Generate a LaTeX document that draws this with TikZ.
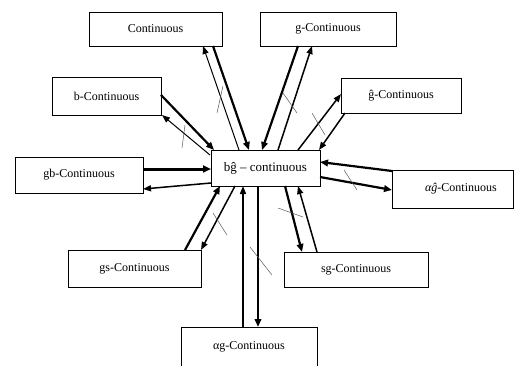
\documentclass[tikz,border=0pt]{standalone}
\usepackage{fontspec}
\setmainfont{Liberation Serif}
\usetikzlibrary{arrows.meta}
\begin{document}
\begin{tikzpicture}[x=1pt,y=-1pt,
  box/.style={draw, line width=0.8pt, anchor=north west, inner sep=0pt, outer sep=0pt,
    font=\fontsize{12}{14}\selectfont},
  thn/.style={-{Triangle[length=8pt,width=6pt]}, line width=1pt},
  med/.style={-{Triangle[length=8pt,width=6pt]}, line width=1.5pt},
  thk/.style={-{Triangle[length=8pt,width=6.5pt]}, line width=2.2pt},
  vthk/.style={-{Triangle[length=8pt,width=7pt]}, line width=3pt},
  tick/.style={line width=0.5pt, draw=black!65}]
\clip (0,0) rectangle (514,365);
\fill[white] (0,0) rectangle (514,365);

% nodes
\node[box, minimum width=133pt, minimum height=34pt] (cont) at (89,12) {Continuous};
\node[box, minimum width=136pt, minimum height=34pt] (g) at (260,12) {g-Continuous};
\node[box, minimum width=109pt, minimum height=38pt] (b) at (52,77) {b-Continuous};
\node[box, minimum width=120pt, minimum height=35pt] (gh) at (341,78) {ĝ-Continuous};
\node[box, minimum width=128pt, minimum height=36pt] (gb) at (15,157) {gb-Continuous};
\node[box, minimum width=109pt, minimum height=36pt, font=\fontsize{13}{15}\selectfont] (c) at (211,150) {bĝ – continuous};
\node[box, minimum width=121pt, minimum height=38pt] (agh) at (392,170) {\hspace*{17pt}{\itshape αĝ}-Continuous};
\node[box, minimum width=133pt, minimum height=37pt] (gs) at (68,250) {gs-Continuous};
\node[box, minimum width=144pt, minimum height=35pt] (sg) at (284,252) {sg-Continuous};
\node[box, minimum width=136pt, minimum height=40pt] (ag) at (181,327) {αg-Continuous};

% connectors
\draw[thk] ([shift={(124,34)}]cont.north west) -- ([shift={(38,0)}]c.north west);
\draw[thn] ([shift={(28,0)}]c.north west) -- ([shift={(114,34)}]cont.north west);

\draw[thk] ([shift={(38,34)}]g.north west) -- ([shift={(51,0)}]c.north west);
\draw[med] ([shift={(67,0)}]c.north west) -- ([shift={(52,34)}]g.north west);

\draw[thk] ([shift={(109,18)}]b.north west) -- ([shift={(3,0)}]c.north west);
\draw[thn] ([shift={(-1,5)}]c.north west) -- ([shift={(110,38)}]b.north west);

\draw[vthk] ([shift={(128,12)}]gb.north west) -- ([shift={(0,19)}]c.north west);
\draw[med] ([shift={(0,33)}]c.north west) -- ([shift={(128,32)}]gb.north west);

\draw[med] ([shift={(87,0)}]c.north west) -- ([shift={(0,16)}]gh.north west);
\draw[med] ([shift={(4,35)}]gh.north west) -- ([shift={(108,0)}]c.north west);

\draw[thk] ([shift={(0,1)}]agh.north west) -- ([shift={(109,12)}]c.north west);
\draw[thk] ([shift={(109,27)}]c.north west) -- ([shift={(0,20)}]agh.north west);

\draw[thk] ([shift={(117,0)}]gs.north west) -- ([shift={(9,36)}]c.north west);
\draw[med] ([shift={(24,36)}]c.north west) -- ([shift={(133,0)}]gs.north west);

\draw[med] ([shift={(62,0)}]ag.north west) -- ([shift={(32,36)}]c.north west);
\draw[thk] ([shift={(47,36)}]c.north west) -- ([shift={(77,0)}]ag.north west);

\draw[thk] ([shift={(74,36)}]c.north west) -- ([shift={(18,0)}]sg.north west);
\draw[med] ([shift={(33,0)}]sg.north west) -- ([shift={(87,36)}]c.north west);

% negation ticks
\draw[tick] (217,113) -- (223,86);
\draw[tick] (283,93) -- (297,113);
\draw[tick] (182,148) -- (185,125);
\draw[tick] (312,113) -- (325,135);
\draw[tick] (344,170) -- (357,190);
\draw[tick] (213,213) -- (227,235);
\draw[tick] (250,247) -- (272,275);
\draw[tick] (278,208) -- (303,217);
\end{tikzpicture}
\end{document}
